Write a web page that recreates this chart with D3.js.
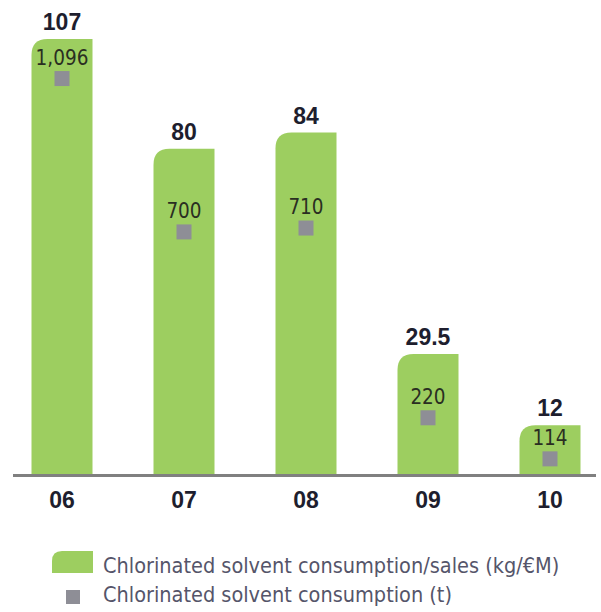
<!DOCTYPE html>
<html>
<head>
<meta charset="utf-8">
<script src="https://cdn.jsdelivr.net/npm/d3@7"></script>
<style>
  body { margin: 0; background: #fff; }
  svg { display: block; }
  .bold { font-family: "Liberation Sans", Arial, sans-serif; font-weight: bold; fill: #1e1e2e; }
  .inner { font-family: "Liberation Sans Narrow", "DejaVu Sans Condensed", sans-serif; fill: #2a2e22; }
  .legend { font-family: "Liberation Sans Narrow", "DejaVu Sans Condensed", sans-serif; fill: #55556a; }
</style>
</head>
<body>
<svg id="chart"></svg>
<script>
// data
var years = ["06", "07", "08", "09", "10"];
var ratio = [107, 80, 84, 29.5, 12];          // kg/€M
var ratioLabels = ["107", "80", "84", "29.5", "12"];
var tonnes = [1096, 700, 710, 220, 114];      // t
var tonnesLabels = ["1,096", "700", "710", "220", "114"];
var legendLabels = ["Chlorinated solvent consumption/sales (kg/€M)", "Chlorinated solvent consumption (t)"];

var width = 601, height = 612;
var svg = d3.select("#chart").attr("width", width).attr("height", height);

var base = 474;

// scales
var x = d3.scaleBand().domain(years).range([31.5, 580.5]).paddingInner(0.5).paddingOuter(0);
var y = d3.scaleLinear().domain([0, 107]).range([base, 39]);
var y2 = d3.scaleLinear().domain([0, 1100]).range([503, 77]);

var green = "#9dce60", grey = "#8e8e96";

// bar with rounded top-left corner
function barPath(x0, top, w, bottom, r) {
  r = Math.min(r, bottom - top);
  return "M" + x0 + "," + bottom +
         "V" + (top + r) +
         "Q" + x0 + "," + top + " " + (x0 + r) + "," + top +
         "H" + (x0 + w) +
         "V" + bottom + "Z";
}

var data = years.map(function(d, i) {
  return {year: d, ratio: ratio[i], rl: ratioLabels[i], t: tonnes[i], tl: tonnesLabels[i]};
});

var g = svg.selectAll(".bar").data(data).enter().append("g").attr("class", "bar");

g.append("path")
  .attr("fill", green)
  .attr("d", function(d) { return barPath(x(d.year), y(d.ratio), x.bandwidth(), base, 16); });

g.append("text")
  .attr("class", "bold")
  .attr("x", function(d) { return x(d.year) + x.bandwidth() / 2; })
  .attr("y", function(d) { return y(d.ratio) - 9; })
  .attr("text-anchor", "middle")
  .style("font-size", "23px")
  .text(function(d) { return d.rl; });

var sq = 15;
g.append("rect")
  .attr("fill", grey)
  .attr("x", function(d) { return x(d.year) + x.bandwidth() / 2 - sq / 2; })
  .attr("y", function(d) { return y2(d.t) - sq / 2; })
  .attr("width", sq).attr("height", sq);

g.append("text")
  .attr("class", "inner")
  .attr("x", function(d) { return x(d.year) + x.bandwidth() / 2; })
  .attr("y", function(d) { return y2(d.t) - 14; })
  .attr("text-anchor", "middle")
  .style("font-size", "20.5px")
  .text(function(d) { return d.tl; });

// baseline
svg.append("line")
  .attr("x1", 13).attr("x2", 596)
  .attr("y1", base + 1.5).attr("y2", base + 1.5)
  .attr("stroke", "#808080").attr("stroke-width", 3);

// x axis labels
var xAxis = svg.append("g")
  .attr("transform", "translate(0," + (base + 3) + ")")
  .call(d3.axisBottom(x).tickSize(0).tickPadding(0));
xAxis.select(".domain").remove();
xAxis.selectAll("text")
  .attr("class", "bold")
  .attr("dy", null)
  .attr("y", 31)
  .attr("font-family", null)
  .style("font-size", "23px");

// legend
var lg = svg.append("g");
lg.append("path").attr("fill", green).attr("d", barPath(52, 551, 41, 573, 10));
lg.append("rect").attr("fill", grey).attr("x", 66).attr("y", 590).attr("width", 14).attr("height", 14);
lg.selectAll("text.legend").data(legendLabels).enter().append("text")
  .attr("class", "legend")
  .attr("x", 103)
  .attr("y", function(d, i) { return 573 + i * 29; })
  .style("font-size", "21.5px")
  .text(function(d) { return d; });
</script>
</body>
</html>
